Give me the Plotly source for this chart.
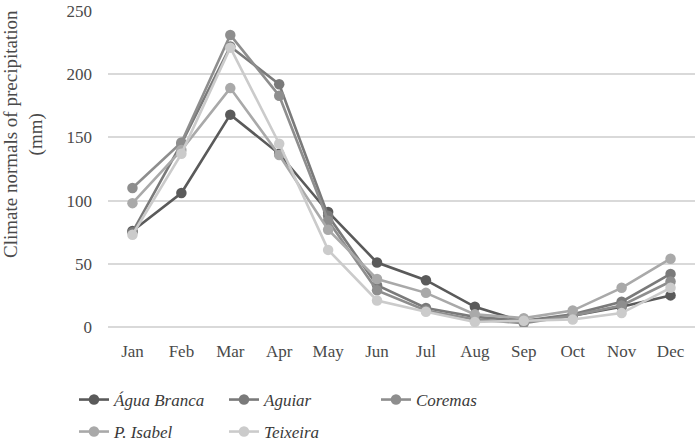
import plotly.graph_objects as go

months = ["Jan", "Feb", "Mar", "Apr", "May", "Jun", "Jul", "Aug", "Sep", "Oct", "Nov", "Dec"]
agua_branca = [76, 106, 168, 137, 91, 51, 37, 16, 4, 9, 16, 25]
aguiar = [75, 145, 222, 192, 88, 33, 15, 8, 5, 10, 20, 42]
coremas = [110, 146, 231, 183, 84, 29, 13, 6, 3, 9, 17, 36]
p_isabel = [98, 140, 189, 136, 77, 38, 27, 10, 7, 13, 31, 54]
teixeira = [73, 137, 221, 145, 61, 21, 12, 4, 5, 6, 11, 31]

series = [
    ("Água Branca", agua_branca, "#5a5a5a"),
    ("Aguiar", aguiar, "#7a7a7a"),
    ("Coremas", coremas, "#8e8e8e"),
    ("P. Isabel", p_isabel, "#a9a9a9"),
    ("Teixeira", teixeira, "#cbcbcb"),
]
# legend slot (left px of line sample, row center px) for each series
legend_slots = [(80, 400), (230, 400), (382, 400), (80, 432), (230, 432)]

W, H = 700, 443
L, R, T, B = 108, 5, 11, 116
pw, ph = W - L - R, H - T - B

font = "Times New Roman, Liberation Serif, serif"
txt = "#4a4a4a"

fig = go.Figure()
legends = {}
for i, (name, vals, col) in enumerate(series):
    key = "legend" if i == 0 else f"legend{i + 1}"
    fig.add_trace(go.Scatter(
        x=months, y=vals, name=name, mode="lines+markers",
        line=dict(color=col, width=2.6),
        marker=dict(color=col, size=10.5, symbol="circle"),
        legend=key,
    ))
    sx, sy = legend_slots[i]
    legends[key] = dict(
        orientation="h", xanchor="left", yanchor="middle",
        x=(sx - 6 - L) / pw, y=(H - B - sy) / ph,
        font=dict(family=font, size=17, color="#3a3a3a", style="italic"),
        itemwidth=30, bgcolor="rgba(0,0,0,0)",
    )

fig.update_layout(
    width=W, height=H,
    margin=dict(l=L, r=R, t=T, b=B, autoexpand=False),
    plot_bgcolor="white", paper_bgcolor="white",
    font=dict(family=font, size=17, color=txt),
    showlegend=True,
    xaxis=dict(
        showgrid=False, showline=False, zeroline=False,
        tickfont=dict(family=font, size=17, color=txt),
        range=[-0.5, 11.5], ticklabelstandoff=12,
    ),
    yaxis=dict(
        range=[0, 250], dtick=50, showgrid=True, gridcolor="#d9d9d9", gridwidth=1.5,
        zeroline=True, zerolinecolor="#d9d9d9", zerolinewidth=1.5,
        showline=False, ticks="", ticklen=0, ticklabelstandoff=15,
        tickfont=dict(family=font, size=17, color=txt),
    ),
    annotations=[dict(
        text="Climate normals of precipitation<br>(mm)",
        xref="paper", yref="paper", x=(23 - L) / pw, y=(H - B - 134) / ph,
        xanchor="center", yanchor="middle", textangle=-90, showarrow=False,
        font=dict(family=font, size=19, color=txt),
    )],
    **legends,
)

fig.write_html("out.html")
